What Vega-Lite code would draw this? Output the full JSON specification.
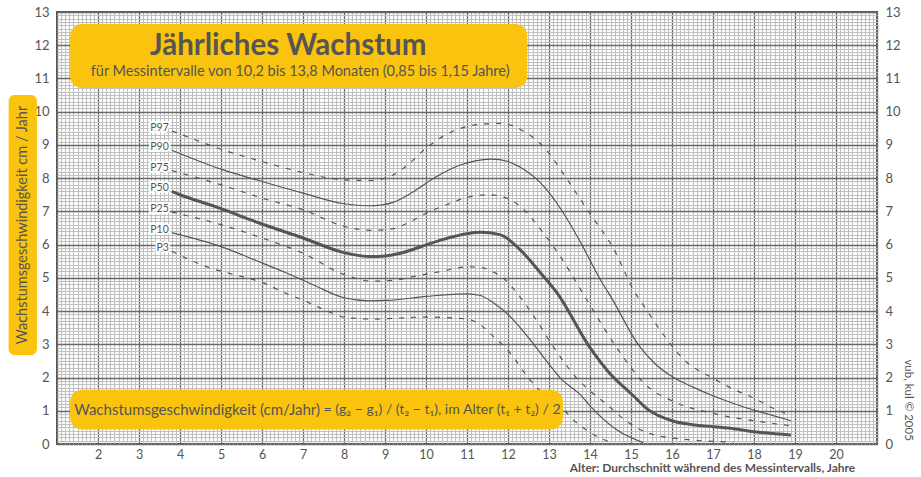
{
  "$schema": "https://vega.github.io/schema/vega-lite/v6.json",
  "width": 820,
  "height": 432,
  "autosize": "none",
  "padding": {"left": 57, "top": 12, "right": 44, "bottom": 33},
  "background": "white",
  "config": {
    "view": {"stroke": "#555", "strokeWidth": 2},
    "font": "Lato"
  },
  "datasets": {
    "curves": [
      {"p":"P97","x":3.8,"y":9.42},{"p":"P97","x":4,"y":9.33},{"p":"P97","x":5,"y":8.87},{"p":"P97","x":6,"y":8.5},{"p":"P97","x":7,"y":8.17},{"p":"P97","x":8,"y":7.95},{"p":"P97","x":8.65,"y":7.93},{"p":"P97","x":9,"y":8.0},{"p":"P97","x":9.3,"y":8.17},{"p":"P97","x":9.6,"y":8.45},{"p":"P97","x":10,"y":8.9},{"p":"P97","x":10.4,"y":9.25},{"p":"P97","x":10.8,"y":9.48},{"p":"P97","x":11.3,"y":9.62},{"p":"P97","x":11.8,"y":9.65},{"p":"P97","x":12.4,"y":9.4},{"p":"P97","x":12.9,"y":8.9},{"p":"P97","x":13.45,"y":7.95},{"p":"P97","x":13.95,"y":7.02},{"p":"P97","x":14.6,"y":5.82},{"p":"P97","x":15.05,"y":4.66},{"p":"P97","x":15.4,"y":4.0},{"p":"P97","x":15.7,"y":3.45},{"p":"P97","x":16.3,"y":2.53},{"p":"P97","x":17,"y":1.98},{"p":"P97","x":17.5,"y":1.65},{"p":"P97","x":18,"y":1.38},{"p":"P97","x":18.6,"y":1.0},{"p":"P97","x":18.9,"y":0.87},
      {"p":"P90","x":3.8,"y":8.84},{"p":"P90","x":5,"y":8.27},{"p":"P90","x":6,"y":7.9},{"p":"P90","x":7,"y":7.55},{"p":"P90","x":8,"y":7.23},{"p":"P90","x":8.6,"y":7.17},{"p":"P90","x":8.9,"y":7.19},{"p":"P90","x":9.2,"y":7.27},{"p":"P90","x":9.5,"y":7.45},{"p":"P90","x":9.8,"y":7.68},{"p":"P90","x":10.1,"y":7.93},{"p":"P90","x":10.4,"y":8.15},{"p":"P90","x":10.8,"y":8.38},{"p":"P90","x":11.2,"y":8.52},{"p":"P90","x":11.6,"y":8.57},{"p":"P90","x":12,"y":8.5},{"p":"P90","x":12.3,"y":8.33},{"p":"P90","x":12.8,"y":7.85},{"p":"P90","x":13.3,"y":7.05},{"p":"P90","x":13.8,"y":6.0},{"p":"P90","x":14.25,"y":4.95},{"p":"P90","x":14.5,"y":4.45},{"p":"P90","x":15.2,"y":2.95},{"p":"P90","x":15.6,"y":2.4},{"p":"P90","x":16,"y":2.03},{"p":"P90","x":16.5,"y":1.72},{"p":"P90","x":17,"y":1.45},{"p":"P90","x":17.66,"y":1.15},{"p":"P90","x":18,"y":1.02},{"p":"P90","x":18.9,"y":0.7},
      {"p":"P75","x":3.8,"y":8.23},{"p":"P75","x":5,"y":7.8},{"p":"P75","x":6,"y":7.4},{"p":"P75","x":7,"y":7.05},{"p":"P75","x":8,"y":6.55},{"p":"P75","x":8.65,"y":6.43},{"p":"P75","x":9.2,"y":6.48},{"p":"P75","x":9.6,"y":6.68},{"p":"P75","x":10.1,"y":7.0},{"p":"P75","x":10.5,"y":7.2},{"p":"P75","x":11,"y":7.42},{"p":"P75","x":11.5,"y":7.5},{"p":"P75","x":11.9,"y":7.43},{"p":"P75","x":12.3,"y":7.15},{"p":"P75","x":12.8,"y":6.45},{"p":"P75","x":13.3,"y":5.6},{"p":"P75","x":13.93,"y":4.32},{"p":"P75","x":14.58,"y":3.03},{"p":"P75","x":15,"y":2.3},{"p":"P75","x":15.3,"y":1.85},{"p":"P75","x":16,"y":1.3},{"p":"P75","x":17,"y":0.92},{"p":"P75","x":18,"y":0.7},{"p":"P75","x":18.9,"y":0.55},
      {"p":"P50","x":3.8,"y":7.6},{"p":"P50","x":4,"y":7.5},{"p":"P50","x":4.85,"y":7.15},{"p":"P50","x":6,"y":6.62},{"p":"P50","x":7,"y":6.2},{"p":"P50","x":8,"y":5.76},{"p":"P50","x":8.65,"y":5.64},{"p":"P50","x":9,"y":5.66},{"p":"P50","x":9.4,"y":5.75},{"p":"P50","x":10,"y":5.99},{"p":"P50","x":10.4,"y":6.15},{"p":"P50","x":11,"y":6.33},{"p":"P50","x":11.33,"y":6.37},{"p":"P50","x":11.8,"y":6.3},{"p":"P50","x":12.3,"y":5.84},{"p":"P50","x":12.8,"y":5.14},{"p":"P50","x":13.2,"y":4.54},{"p":"P50","x":14,"y":2.9},{"p":"P50","x":14.5,"y":2.1},{"p":"P50","x":15,"y":1.52},{"p":"P50","x":15.4,"y":1.05},{"p":"P50","x":16,"y":0.7},{"p":"P50","x":16.5,"y":0.58},{"p":"P50","x":17,"y":0.52},{"p":"P50","x":17.5,"y":0.46},{"p":"P50","x":18,"y":0.37},{"p":"P50","x":18.9,"y":0.27},
      {"p":"P25","x":3.8,"y":6.98},{"p":"P25","x":5,"y":6.6},{"p":"P25","x":6,"y":6.2},{"p":"P25","x":7,"y":5.74},{"p":"P25","x":8,"y":5.1},{"p":"P25","x":8.7,"y":4.9},{"p":"P25","x":9.3,"y":4.94},{"p":"P25","x":9.7,"y":5.04},{"p":"P25","x":10.4,"y":5.2},{"p":"P25","x":11,"y":5.33},{"p":"P25","x":11.3,"y":5.32},{"p":"P25","x":11.6,"y":5.2},{"p":"P25","x":11.9,"y":4.98},{"p":"P25","x":12.1,"y":4.72},{"p":"P25","x":12.63,"y":3.85},{"p":"P25","x":13.12,"y":2.9},{"p":"P25","x":13.7,"y":1.95},{"p":"P25","x":14,"y":1.6},{"p":"P25","x":14.4,"y":1.2},{"p":"P25","x":14.9,"y":0.68},{"p":"P25","x":15.5,"y":0.3},{"p":"P25","x":16.4,"y":0.13},{"p":"P25","x":17.5,"y":0.06},
      {"p":"P10","x":3.8,"y":6.36},{"p":"P10","x":5,"y":5.94},{"p":"P10","x":6,"y":5.45},{"p":"P10","x":6.5,"y":5.2},{"p":"P10","x":7,"y":4.93},{"p":"P10","x":7.3,"y":4.76},{"p":"P10","x":8,"y":4.4},{"p":"P10","x":8.6,"y":4.31},{"p":"P10","x":9.05,"y":4.32},{"p":"P10","x":10,"y":4.44},{"p":"P10","x":11,"y":4.52},{"p":"P10","x":11.33,"y":4.47},{"p":"P10","x":11.65,"y":4.24},{"p":"P10","x":12,"y":3.9},{"p":"P10","x":12.5,"y":3.2},{"p":"P10","x":13,"y":2.4},{"p":"P10","x":13.3,"y":1.95},{"p":"P10","x":13.75,"y":1.5},{"p":"P10","x":14,"y":1.15},{"p":"P10","x":14.66,"y":0.42},{"p":"P10","x":15.3,"y":0.04},
      {"p":"P3","x":3.8,"y":5.8},{"p":"P3","x":4.75,"y":5.29},{"p":"P3","x":5.25,"y":5.12},{"p":"P3","x":6.05,"y":4.84},{"p":"P3","x":6.55,"y":4.55},{"p":"P3","x":7,"y":4.33},{"p":"P3","x":7.5,"y":4.05},{"p":"P3","x":8,"y":3.82},{"p":"P3","x":8.7,"y":3.76},{"p":"P3","x":10,"y":3.82},{"p":"P3","x":11,"y":3.76},{"p":"P3","x":11.33,"y":3.58},{"p":"P3","x":11.65,"y":3.23},{"p":"P3","x":12.06,"y":2.73},{"p":"P3","x":12.47,"y":2.03},{"p":"P3","x":12.63,"y":1.8},{"p":"P3","x":13,"y":1.35},{"p":"P3","x":13.44,"y":0.93},{"p":"P3","x":13.6,"y":0.72},{"p":"P3","x":14,"y":0.35},{"p":"P3","x":14.5,"y":0.05}
    ],
    "one": [{"k": 1}]
  },
  "resolve": {"axis": {"x": "independent", "y": "independent"}},
  "layer": [
    {
      "data": {"name": "curves"},
      "transform": [{"filter": "datum.p === 'P97' || datum.p === 'P75' || datum.p === 'P25' || datum.p === 'P3'"}],
      "mark": {"type": "line", "interpolate": "monotone", "color": "#555", "strokeWidth": 1.2, "strokeDash": [5, 7]},
      "encoding": {
        "x": {
          "field": "x", "type": "quantitative",
          "scale": {"domain": [1, 21], "nice": false, "zero": false},
          "axis": {
            "title": null, "orient": "bottom", "tickCount": 200,
            "grid": true, "ticks": false, "domain": false,
            "labelOverlap": false, "labelFlush": false, "labelPadding": 4,
            "labelFontSize": 12.5, "labelColor": "#555",
            "labelExpr": "datum.value % 1 === 0 && datum.value >= 2 && datum.value <= 20 ? '' + datum.value : ''",
            "gridColor": {"condition": {"test": "datum.value % 1 === 0", "value": "#6a6a6a"}, "value": "#c0c0c0"},
            "gridWidth": {"condition": {"test": "datum.value % 1 === 0", "value": 1.3}, "value": 1.1},
            "gridOpacity": 1
          }
        },
        "y": {
          "field": "y", "type": "quantitative",
          "scale": {"domain": [0, 13], "nice": false, "zero": false},
          "axis": {
            "title": null, "orient": "left", "tickCount": 130, "grid": true, "ticks": false, "domain": false,
            "labelOverlap": false, "labelFlush": false, "labelPadding": 8,
            "labelFontSize": 13, "labelColor": "#555",
            "labelExpr": "datum.value % 1 === 0 ? '' + datum.value : ''",
            "gridColor": {"condition": {"test": "datum.value % 1 === 0", "value": "#6a6a6a"}, "value": "#c0c0c0"},
            "gridWidth": {"condition": {"test": "datum.value % 1 === 0", "value": 1.3}, "value": 1.1},
            "gridOpacity": 1
          }
        },
        "detail": {"field": "p", "type": "nominal"}
      }
    },
    {
      "data": {"name": "curves"},
      "transform": [{"filter": "datum.p === 'P90' || datum.p === 'P10'"}],
      "mark": {"type": "line", "interpolate": "monotone", "color": "#555", "strokeWidth": 1.2},
      "encoding": {
        "x": {"field": "x", "type": "quantitative", "axis": null},
        "y": {
          "field": "y", "type": "quantitative",
          "axis": {
            "title": null, "orient": "right", "tickCount": 130, "grid": false, "ticks": false, "domain": false,
            "labelOverlap": false, "labelFlush": false, "labelPadding": 8,
            "labelFontSize": 13, "labelColor": "#555",
            "labelExpr": "datum.value % 1 === 0 ? '' + datum.value : ''"
          }
        },
        "detail": {"field": "p", "type": "nominal"}
      }
    },
    {
      "data": {"name": "curves"},
      "transform": [{"filter": "datum.p === 'P50'"}],
      "mark": {"type": "line", "interpolate": "monotone", "color": "#555", "strokeWidth": 3},
      "encoding": {
        "x": {"field": "x", "type": "quantitative", "axis": null},
        "y": {"field": "y", "type": "quantitative", "axis": null}
      }
    },
    {
      "data": {"name": "curves"},
      "transform": [{"filter": "datum.x === 3.8"}],
      "mark": {"type": "text", "align": "right", "baseline": "middle", "dx": -3, "dy": -3, "fontSize": 10.5, "fill": "white", "stroke": "white", "strokeWidth": 4},
      "encoding": {
        "x": {"field": "x", "type": "quantitative", "axis": null},
        "y": {"field": "y", "type": "quantitative", "axis": null},
        "text": {"field": "p", "type": "nominal"}
      }
    },
    {
      "data": {"name": "curves"},
      "transform": [{"filter": "datum.x === 3.8"}],
      "mark": {"type": "text", "align": "right", "baseline": "middle", "dx": -3, "dy": -3, "fontSize": 10.5, "color": "#555"},
      "encoding": {
        "x": {"field": "x", "type": "quantitative", "axis": null},
        "y": {"field": "y", "type": "quantitative", "axis": null},
        "text": {"field": "p", "type": "nominal"}
      }
    },
    {
      "data": {"name": "one"},
      "mark": {"type": "rect", "color": "#FAC30E", "cornerRadius": 12},
      "encoding": {
        "x": {"datum": 1.32, "type": "quantitative", "axis": null},
        "x2": {"datum": 12.47},
        "y": {"datum": 12.64, "type": "quantitative", "axis": null},
        "y2": {"datum": 10.71}
      }
    },
    {
      "data": {"name": "one"},
      "mark": {"type": "rect", "color": "#FAC30E", "cornerRadius": 12},
      "encoding": {
        "x": {"datum": 1.32, "type": "quantitative", "axis": null},
        "x2": {"datum": 13.34},
        "y": {"datum": 1.63, "type": "quantitative", "axis": null},
        "y2": {"datum": 0.44}
      }
    },
    {
      "data": {"name": "one"},
      "mark": {"type": "rect", "color": "#FAC30E", "cornerRadius": 6},
      "encoding": {
        "x": {"datum": -0.18, "type": "quantitative", "axis": null},
        "x2": {"datum": 0.51},
        "y": {"datum": 10.5, "type": "quantitative", "axis": null},
        "y2": {"datum": 2.68}
      }
    },
    {
      "data": {"name": "one"},
      "mark": {"type": "text", "text": "Jährliches Wachstum", "fontSize": 29.5, "fontWeight": "bold", "color": "#555", "align": "center", "baseline": "middle"},
      "encoding": {
        "x": {"datum": 6.64, "type": "quantitative", "axis": null},
        "y": {"datum": 11.98, "type": "quantitative", "axis": null}
      }
    },
    {
      "data": {"name": "one"},
      "mark": {"type": "text", "text": "für Messintervalle von 10,2 bis 13,8 Monaten (0,85 bis 1,15 Jahre)", "fontSize": 14.5, "color": "#555", "align": "center", "baseline": "middle"},
      "encoding": {
        "x": {"datum": 6.93, "type": "quantitative", "axis": null},
        "y": {"datum": 11.19, "type": "quantitative", "axis": null}
      }
    },
    {
      "data": {"name": "one"},
      "mark": {"type": "text", "text": "Wachstumsgeschwindigkeit (cm/Jahr)", "fontSize": 15, "color": "#555", "align": "left", "baseline": "middle"},
      "encoding": {
        "x": {"datum": 1.42, "type": "quantitative", "axis": null},
        "y": {"datum": 1.02, "type": "quantitative", "axis": null}
      }
    },
    {
      "data": {"name": "one"},
      "mark": {"type": "text", "text": "= (g₂ − g₁) / (t₂ − t₁), im Alter (t₁ + t₂) / 2", "fontSize": 14.1, "color": "#555", "align": "left", "baseline": "middle"},
      "encoding": {
        "x": {"datum": 7.5, "type": "quantitative", "axis": null},
        "y": {"datum": 1.02, "type": "quantitative", "axis": null}
      }
    },
    {
      "data": {"name": "one"},
      "mark": {"type": "text", "text": "Wachstumsgeschwindigkeit  cm / Jahr", "fontSize": 14.5, "color": "#555", "align": "center", "baseline": "middle", "angle": 270},
      "encoding": {
        "x": {"datum": 0.17, "type": "quantitative", "axis": null},
        "y": {"datum": 6.59, "type": "quantitative", "axis": null}
      }
    },
    {
      "data": {"name": "one"},
      "mark": {"type": "text", "text": "Alter: Durchschnitt während des Messintervalls, Jahre", "fontSize": 12, "fontWeight": "bold", "color": "#555", "align": "right", "baseline": "middle"},
      "encoding": {
        "x": {"datum": 20.47, "type": "quantitative", "axis": null},
        "y": {"datum": -0.73, "type": "quantitative", "axis": null}
      }
    },
    {
      "data": {"name": "one"},
      "mark": {"type": "text", "text": "vub, kul © 2005", "fontSize": 11.5, "color": "#555", "align": "center", "baseline": "middle", "angle": 90},
      "encoding": {
        "x": {"datum": 21.76, "type": "quantitative", "axis": null},
        "y": {"datum": 1.32, "type": "quantitative", "axis": null}
      }
    }
  ]
}
